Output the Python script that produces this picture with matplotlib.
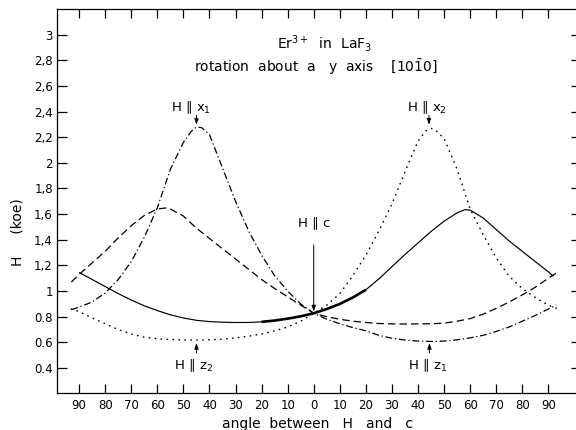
import matplotlib
matplotlib.use("Agg")
import matplotlib.pyplot as plt
import numpy as np

# ---- data (angle: negative = left branch, positive = right branch) ----
solid_ang = [-90, -85, -80, -75, -70, -65, -60, -55, -50, -45, -40, -35, -30, -25, -20, -15, -10, -5, 0,
             5, 10, 15, 20, 25, 30, 35, 40, 45, 50, 55, 58, 60, 65, 70, 75, 80, 85, 90, 92]
solid_H = [1.145, 1.09, 1.035, 0.98, 0.93, 0.885, 0.848, 0.815, 0.79, 0.772, 0.762, 0.757, 0.755, 0.755, 0.76, 0.77, 0.785, 0.803, 0.827,
           0.86, 0.90, 0.95, 1.01, 1.095, 1.19, 1.285, 1.375, 1.465, 1.545, 1.61, 1.635, 1.632, 1.57, 1.48, 1.39, 1.31, 1.23, 1.15, 1.115]
bold_range = (-20, 20)

dash_ang = [-93, -90, -85, -80, -75, -70, -65, -60, -57, -55, -50, -45, -40, -35, -30, -25, -20, -15, -10, -5, 0,
            5, 10, 15, 20, 25, 30, 35, 40, 45, 50, 55, 60, 65, 70, 75, 80, 85, 90, 93]
dash_H = [1.07, 1.13, 1.22, 1.31, 1.415, 1.51, 1.59, 1.64, 1.648, 1.64, 1.585, 1.49, 1.41, 1.33, 1.25, 1.17, 1.09, 1.02, 0.955, 0.89, 0.827,
          0.80, 0.78, 0.765, 0.755, 0.747, 0.744, 0.743, 0.744, 0.745, 0.75, 0.765, 0.785, 0.82, 0.865, 0.915, 0.97, 1.03, 1.10, 1.14]

dashdot_ang = [-93, -90, -85, -80, -75, -70, -65, -60, -55, -50, -47, -45, -43, -40, -35, -30, -25, -20, -15, -10, -5, 0,
               5, 10, 15, 20, 25, 30, 35, 40, 45, 50, 55, 60, 65, 70, 75, 80, 85, 90, 93]
dashdot_H = [0.855, 0.875, 0.915, 0.985, 1.09, 1.23, 1.42, 1.65, 1.95, 2.16, 2.245, 2.28, 2.275, 2.22, 1.96, 1.70, 1.47, 1.28, 1.12, 1.0, 0.9, 0.827,
             0.78, 0.745, 0.715, 0.69, 0.655, 0.632, 0.618, 0.61, 0.607, 0.61, 0.62, 0.635, 0.655, 0.685, 0.72, 0.765, 0.81, 0.86, 0.89]

dot_ang = [-93, -90, -85, -80, -75, -70, -65, -60, -55, -50, -45, -40, -35, -30, -25, -20, -15, -10, -5, 0,
           5, 10, 15, 20, 25, 30, 35, 40, 43, 45, 47, 50, 55, 60, 65, 70, 75, 80, 85, 90, 93]
dot_H = [0.86, 0.84, 0.79, 0.745, 0.70, 0.665, 0.64, 0.628, 0.622, 0.619, 0.618, 0.62, 0.625, 0.635, 0.648, 0.665, 0.69, 0.72, 0.765, 0.827,
         0.89, 0.98, 1.12, 1.28, 1.47, 1.68, 1.93, 2.17, 2.25, 2.27, 2.25, 2.19, 1.95, 1.64, 1.44, 1.26, 1.115, 1.02, 0.95, 0.89, 0.867]

xtick_pos = list(range(-90, 91, 10))
xtick_lab = [str(abs(v)) for v in xtick_pos]
ytick_pos = [0.4, 0.6, 0.8, 1.0, 1.2, 1.4, 1.6, 1.8, 2.0, 2.2, 2.4, 2.6, 2.8, 3.0]
ytick_lab = ['0.4', '0.6', '0.8', '1', '1,2', '1,4', '1,6', '1,8', '2', '2,2', '2,4', '2,6', '2,8', '3']

plt.rcParams['font.family'] = ['DejaVu Sans']

fig = plt.figure(figsize=(5.76, 4.30), dpi=100)
ax = fig.add_axes([57/576, (430-393)/430, (577-57)/576, (393-9)/430])
ax.set_xlim(-98.5, 101)
ax.set_ylim(0.205, 3.2)

k = 'black'
ax.plot(solid_ang, solid_H, color=k, lw=0.85, solid_capstyle='butt')
sa = np.array(solid_ang, float); sh = np.array(solid_H, float)
m = (sa >= bold_range[0]) & (sa <= bold_range[1])
ax.plot(sa[m], sh[m], color=k, lw=1.9, solid_capstyle='butt')
ax.plot(dash_ang, dash_H, color=k, lw=0.9, linestyle=(0, (6, 3.2)))
ax.plot(dashdot_ang, dashdot_H, color=k, lw=0.9, linestyle=(0, (5.5, 2.2, 1.0, 2.2)))
ax.plot(dot_ang, dot_H, color=k, lw=1.1, linestyle=(0, (0.3, 3.6)), dash_capstyle='round')

for sp in ax.spines.values():
    sp.set_linewidth(0.9)

ax.set_xticks(xtick_pos)
ax.set_xticklabels(xtick_lab)
ax.set_yticks(ytick_pos)
ax.set_yticklabels(ytick_lab)
ax.tick_params(direction='in', top=True, right=True, width=0.9, labelsize=8.5)
ax.tick_params(axis='x', length=6.5, pad=4)
ax.tick_params(axis='y', length=7, pad=3)
for t in ax.yaxis.get_major_ticks():
    t.tick2line.set_markersize(4.5)

fs = 9.5
arw = dict(arrowstyle='-|>,head_length=0.35,head_width=0.12', color=k, lw=0.7, shrinkA=0, shrinkB=0)
ax.text(-47, 2.43, 'H \u2225 x$_1$', ha='center', va='center', fontsize=fs)
ax.annotate('', xy=(-45, 2.297), xytext=(-45, 2.37), arrowprops=arw)
ax.text(43.5, 2.43, 'H \u2225 x$_2$', ha='center', va='center', fontsize=fs)
ax.annotate('', xy=(44.2, 2.297), xytext=(44.2, 2.37), arrowprops=arw)
ax.text(0, 1.53, 'H \u2225 c', ha='center', va='center', fontsize=fs)
ax.annotate('', xy=(0, 0.84), xytext=(0, 1.36), arrowprops=arw)
ax.text(-46, 0.415, 'H \u2225 z$_2$', ha='center', va='center', fontsize=fs)
ax.annotate('', xy=(-45, 0.595), xytext=(-45, 0.517), arrowprops=arw)
ax.text(43.5, 0.415, 'H \u2225 z$_1$', ha='center', va='center', fontsize=fs)
ax.annotate('', xy=(44.4, 0.595), xytext=(44.4, 0.517), arrowprops=arw)

ax.text(4.2, 2.93, 'Er$^{3+}$  in  LaF$_3$', ha='center', va='center', fontsize=10)
ax.text(0.8, 2.75, 'rotation  about  a   y  axis    [10$\\bar{1}$0]', ha='center', va='center', fontsize=10)

ax.set_xlabel('angle  between   H   and   c', fontsize=10, labelpad=4)
ax.set_ylabel('H     (koe)', fontsize=10)
ax.yaxis.set_label_coords(-0.062, 0.42)

fig.savefig('out.png', dpi=100)
